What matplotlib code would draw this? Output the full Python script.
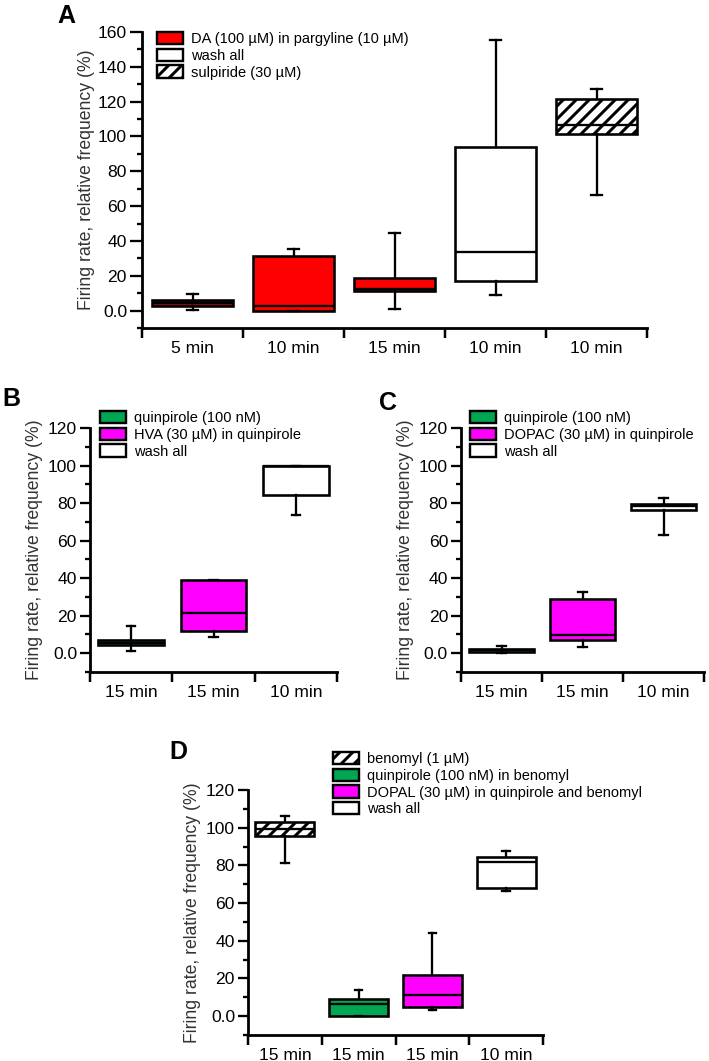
import matplotlib
matplotlib.use("Agg")
import matplotlib.pyplot as plt
from matplotlib.patches import Patch
from matplotlib.ticker import MultipleLocator

# Figure geometry
DPI = 78
W, H = 709, 1061

# Panel A data
a_groups = ["5 min", "10 min", "15 min", "10 min", "10 min"]
a_whislo = [0.6, 0.0, 1.0, 8.8, 66.5]
a_q1 = [2.5, 0.0, 11.3, 17.2, 101.5]
a_med = [4.5, 2.5, 12.4, 33.6, 106.7]
a_q3 = [6.3, 31.1, 18.9, 94.2, 121.7]
a_whishi = [9.7, 35.4, 44.5, 155.6, 127.3]
a_yticks = [0, 20, 40, 60, 80, 100, 120, 140, 160]
a_yticklabels = ["0.0", "20", "40", "60", "80", "100", "120", "140", "160"]
a_legend = ["DA (100 µM) in pargyline (10 µM)", "wash all", "sulpiride (30 µM)"]

# Panel B data
b_groups = ["15 min", "15 min", "10 min"]
b_whislo = [1.3, 8.7, 73.8]
b_q1 = [4.4, 11.7, 84.4]
b_med = [5.6, 21.2, 99.6]
b_q3 = [6.8, 38.9, 99.6]
b_whishi = [14.4, 38.9, 100.0]
b_legend = ["quinpirole (100 nM)", "HVA (30 µM) in quinpirole", "wash all"]

# Panel C data
c_groups = ["15 min", "15 min", "10 min"]
c_whislo = [0.0, 3.5, 62.8]
c_q1 = [0.9, 6.9, 76.3]
c_med = [1.7, 9.9, 78.2]
c_q3 = [2.5, 28.8, 79.7]
c_whishi = [3.7, 32.6, 82.5]
c_legend = ["quinpirole (100 nM)", "DOPAC (30 µM) in quinpirole", "wash all"]

# Panel D data
d_groups = ["15 min", "15 min", "15 min", "10 min"]
d_whislo = [81.0, 0.0, 3.5, 66.5]
d_q1 = [95.8, 0.0, 5.1, 68.1]
d_med = [99.3, 6.7, 11.2, 81.9]
d_q3 = [103.2, 9.2, 22.1, 84.7]
d_whishi = [106.2, 14.1, 44.1, 87.4]
d_legend = ["benomyl (1 µM)", "quinpirole (100 nM) in benomyl",
            "DOPAL (30 µM) in quinpirole and benomyl", "wash all"]

bcd_yticks = [0, 20, 40, 60, 80, 100, 120]
bcd_yticklabels = ["0.0", "20", "40", "60", "80", "100", "120"]

# Styles
RED = "#ff0000"
DARKRED = "#8c1010"
GREEN = "#00a651"
MAGENTA = "#ff00ff"
WHITE = "#ffffff"


def px(v):
    """Convert pixels to points."""
    return v * 72 / DPI


def rect(left, right, top, bottom):
    """Axes rectangle from pixel edges."""
    return [left / W, 1 - bottom / H, (right - left) / W, (bottom - top) / H]


plt.rcParams["font.family"] = ["Liberation Sans", "DejaVu Sans"]
plt.rcParams["hatch.linewidth"] = px(3)


def draw_panel(ax, groups, whislo, q1, med, q3, whishi, fills, hatches,
               yticks, yticklabels, ytop, ticklen):
    stats = []
    for i in range(len(groups)):
        stats.append({"whislo": whislo[i], "q1": q1[i], "med": med[i],
                      "q3": q3[i], "whishi": whishi[i], "fliers": []})
    pos = list(range(1, len(groups) + 1))
    bp = ax.bxp(stats, positions=pos, widths=0.8, capwidths=0.1,
                patch_artist=True, showfliers=False,
                boxprops=dict(linewidth=px(2.6), edgecolor="black"),
                whiskerprops=dict(linewidth=px(2.3), color="black"),
                capprops=dict(linewidth=px(2.3), color="black"),
                medianprops=dict(linewidth=px(2.3), color="black"))
    for box, fc, ht in zip(bp["boxes"], fills, hatches):
        box.set_facecolor(fc)
        if ht:
            box.set_hatch(ht)

    ax.set_xlim(0.5, len(groups) + 0.5)
    ax.set_ylim(-10, ytop)
    ax.set_xticks([p - 0.5 for p in pos] + [len(groups) + 0.5])
    ax.set_xticklabels([])
    ax.set_xticks(pos, groups, minor=True)
    ax.set_yticks(yticks, yticklabels)
    ax.yaxis.set_minor_locator(MultipleLocator(10))

    for s in ["top", "right"]:
        ax.spines[s].set_visible(False)
    for s in ["left", "bottom"]:
        ax.spines[s].set_linewidth(px(2.8))

    ax.tick_params(axis="y", which="major", direction="out", length=px(ticklen),
                   width=px(2.3), pad=px(3), labelsize=px(17.5))
    ax.tick_params(axis="y", which="minor", direction="out", length=px(5),
                   width=px(2.3))
    ax.tick_params(axis="x", which="major", direction="out", length=px(10),
                   width=px(2.5))
    ax.tick_params(axis="x", which="minor", length=0, pad=px(13),
                   labelsize=px(17.5))

    ax.set_ylabel("Firing rate, relative frequency (%)", fontsize=px(17.6),
                  color="#333333")
    width_px = ax.get_position().width * W
    ax.yaxis.set_label_coords(-47 / width_px, 0.5)


def add_legend(ax, labels, fills, hatches, x, y):
    handles = [Patch(facecolor=fc, edgecolor="black", hatch=ht, linewidth=px(2.4))
               for fc, ht in zip(fills, hatches)]
    ax.legend(handles, labels, loc="upper left",
              bbox_to_anchor=(x / W, 1 - y / H), bbox_transform=fig.transFigure,
              frameon=False, borderpad=0, borderaxespad=0, handlelength=1.8,
              handleheight=0.9, handletextpad=0.55, labelspacing=0.18,
              fontsize=px(14.6))


fig = plt.figure(figsize=(W / DPI, H / DPI), dpi=DPI)

# Panel A
ax_a = fig.add_axes(rect(142, 647, 32, 328))
draw_panel(ax_a, a_groups, a_whislo, a_q1, a_med, a_q3, a_whishi,
           [DARKRED, RED, RED, WHITE, WHITE], [None, None, None, None, "//"],
           a_yticks, a_yticklabels, 160, 12)
add_legend(ax_a, a_legend, [RED, WHITE, WHITE], [None, None, "//"], 157, 32)

# Panel B
ax_b = fig.add_axes(rect(90, 337, 428, 672))
draw_panel(ax_b, b_groups, b_whislo, b_q1, b_med, b_q3, b_whishi,
           [GREEN, MAGENTA, WHITE], [None, None, None],
           bcd_yticks, bcd_yticklabels, 120, 10)
add_legend(ax_b, b_legend, [GREEN, MAGENTA, WHITE], [None, None, None], 100, 411)

# Panel C
ax_c = fig.add_axes(rect(461, 704, 428, 672))
draw_panel(ax_c, c_groups, c_whislo, c_q1, c_med, c_q3, c_whishi,
           [GREEN, MAGENTA, WHITE], [None, None, None],
           bcd_yticks, bcd_yticklabels, 120, 10)
add_legend(ax_c, c_legend, [GREEN, MAGENTA, WHITE], [None, None, None], 470, 411)

# Panel D
ax_d = fig.add_axes(rect(248, 543, 790, 1035))
draw_panel(ax_d, d_groups, d_whislo, d_q1, d_med, d_q3, d_whishi,
           [WHITE, GREEN, MAGENTA, WHITE], ["//", None, None, None],
           bcd_yticks, bcd_yticklabels, 120, 10)
add_legend(ax_d, d_legend, [WHITE, GREEN, MAGENTA, WHITE], ["//", None, None, None],
           333, 752)

# Panel letters
for letter, (x, y) in zip("ABCD", [(66, 16), (11, 399), (388, 403), (178, 752)]):
    fig.text(x / W, 1 - y / H, letter, ha="center", va="center",
             fontsize=px(25), fontweight="bold")

fig.savefig("out.png", dpi=DPI)
